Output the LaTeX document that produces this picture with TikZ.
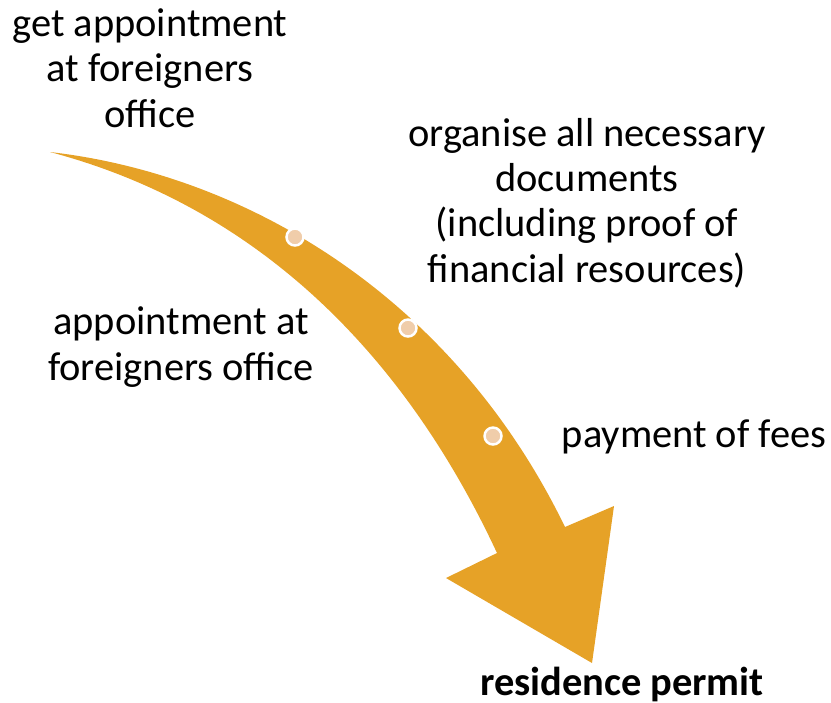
\documentclass[tikz,border=0pt]{standalone}
\usepackage{fontspec}
\setmainfont{Carlito}
\usepackage{tikz}

\definecolor{arrowcol}{HTML}{E6A227}
\definecolor{dotcol}{HTML}{F0CDAA}

\begin{document}
\begin{tikzpicture}[x=0.01cm, y=-0.01cm,
    every node/.style={align=center, font=\fontsize{11.5}{12.9}\selectfont},
    dot/.style={circle, fill=dotcol, draw=white, line width=0.7pt, inner sep=0pt, minimum size=0.17cm}]

    \useasboundingbox (0,0) rectangle (831,702);

    % Freccia
    \coordinate (tail) at (50,152);
    \coordinate (baseR) at (565,527);
    \coordinate (wingR) at (614,506);
    \coordinate (tip) at (592,663);
    \coordinate (wingL) at (446,578);
    \coordinate (baseL) at (497,553);
    \fill[arrowcol] (tail) .. controls (250,175) and (455,300) .. (baseR)
        -- (wingR) -- (tip) -- (wingL) -- (baseL)
        .. controls (400,345) and (250,205) .. (tail) -- cycle;

    % Punti
    \node[dot] (d1) at (295,237) {};
    \node[dot] (d2) at (408,328) {};
    \node[dot] (d3) at (493,436) {};

    % Testi
    \node (getapp) at (150,68) {get appointment\\at foreigners\\office};
    \node (docs) at (587,203) {organise all necessary\\documents\\(including proof of\\financial resources)};
    \node (appoint) at (181,347) {appointment at\\foreigners office};
    \node (fees) at (694,437) {payment of fees};
    \node[font=\fontsize{11.5}{12.9}\selectfont\bfseries] (permit) at (622,684) {residence permit};
\end{tikzpicture}
\end{document}
